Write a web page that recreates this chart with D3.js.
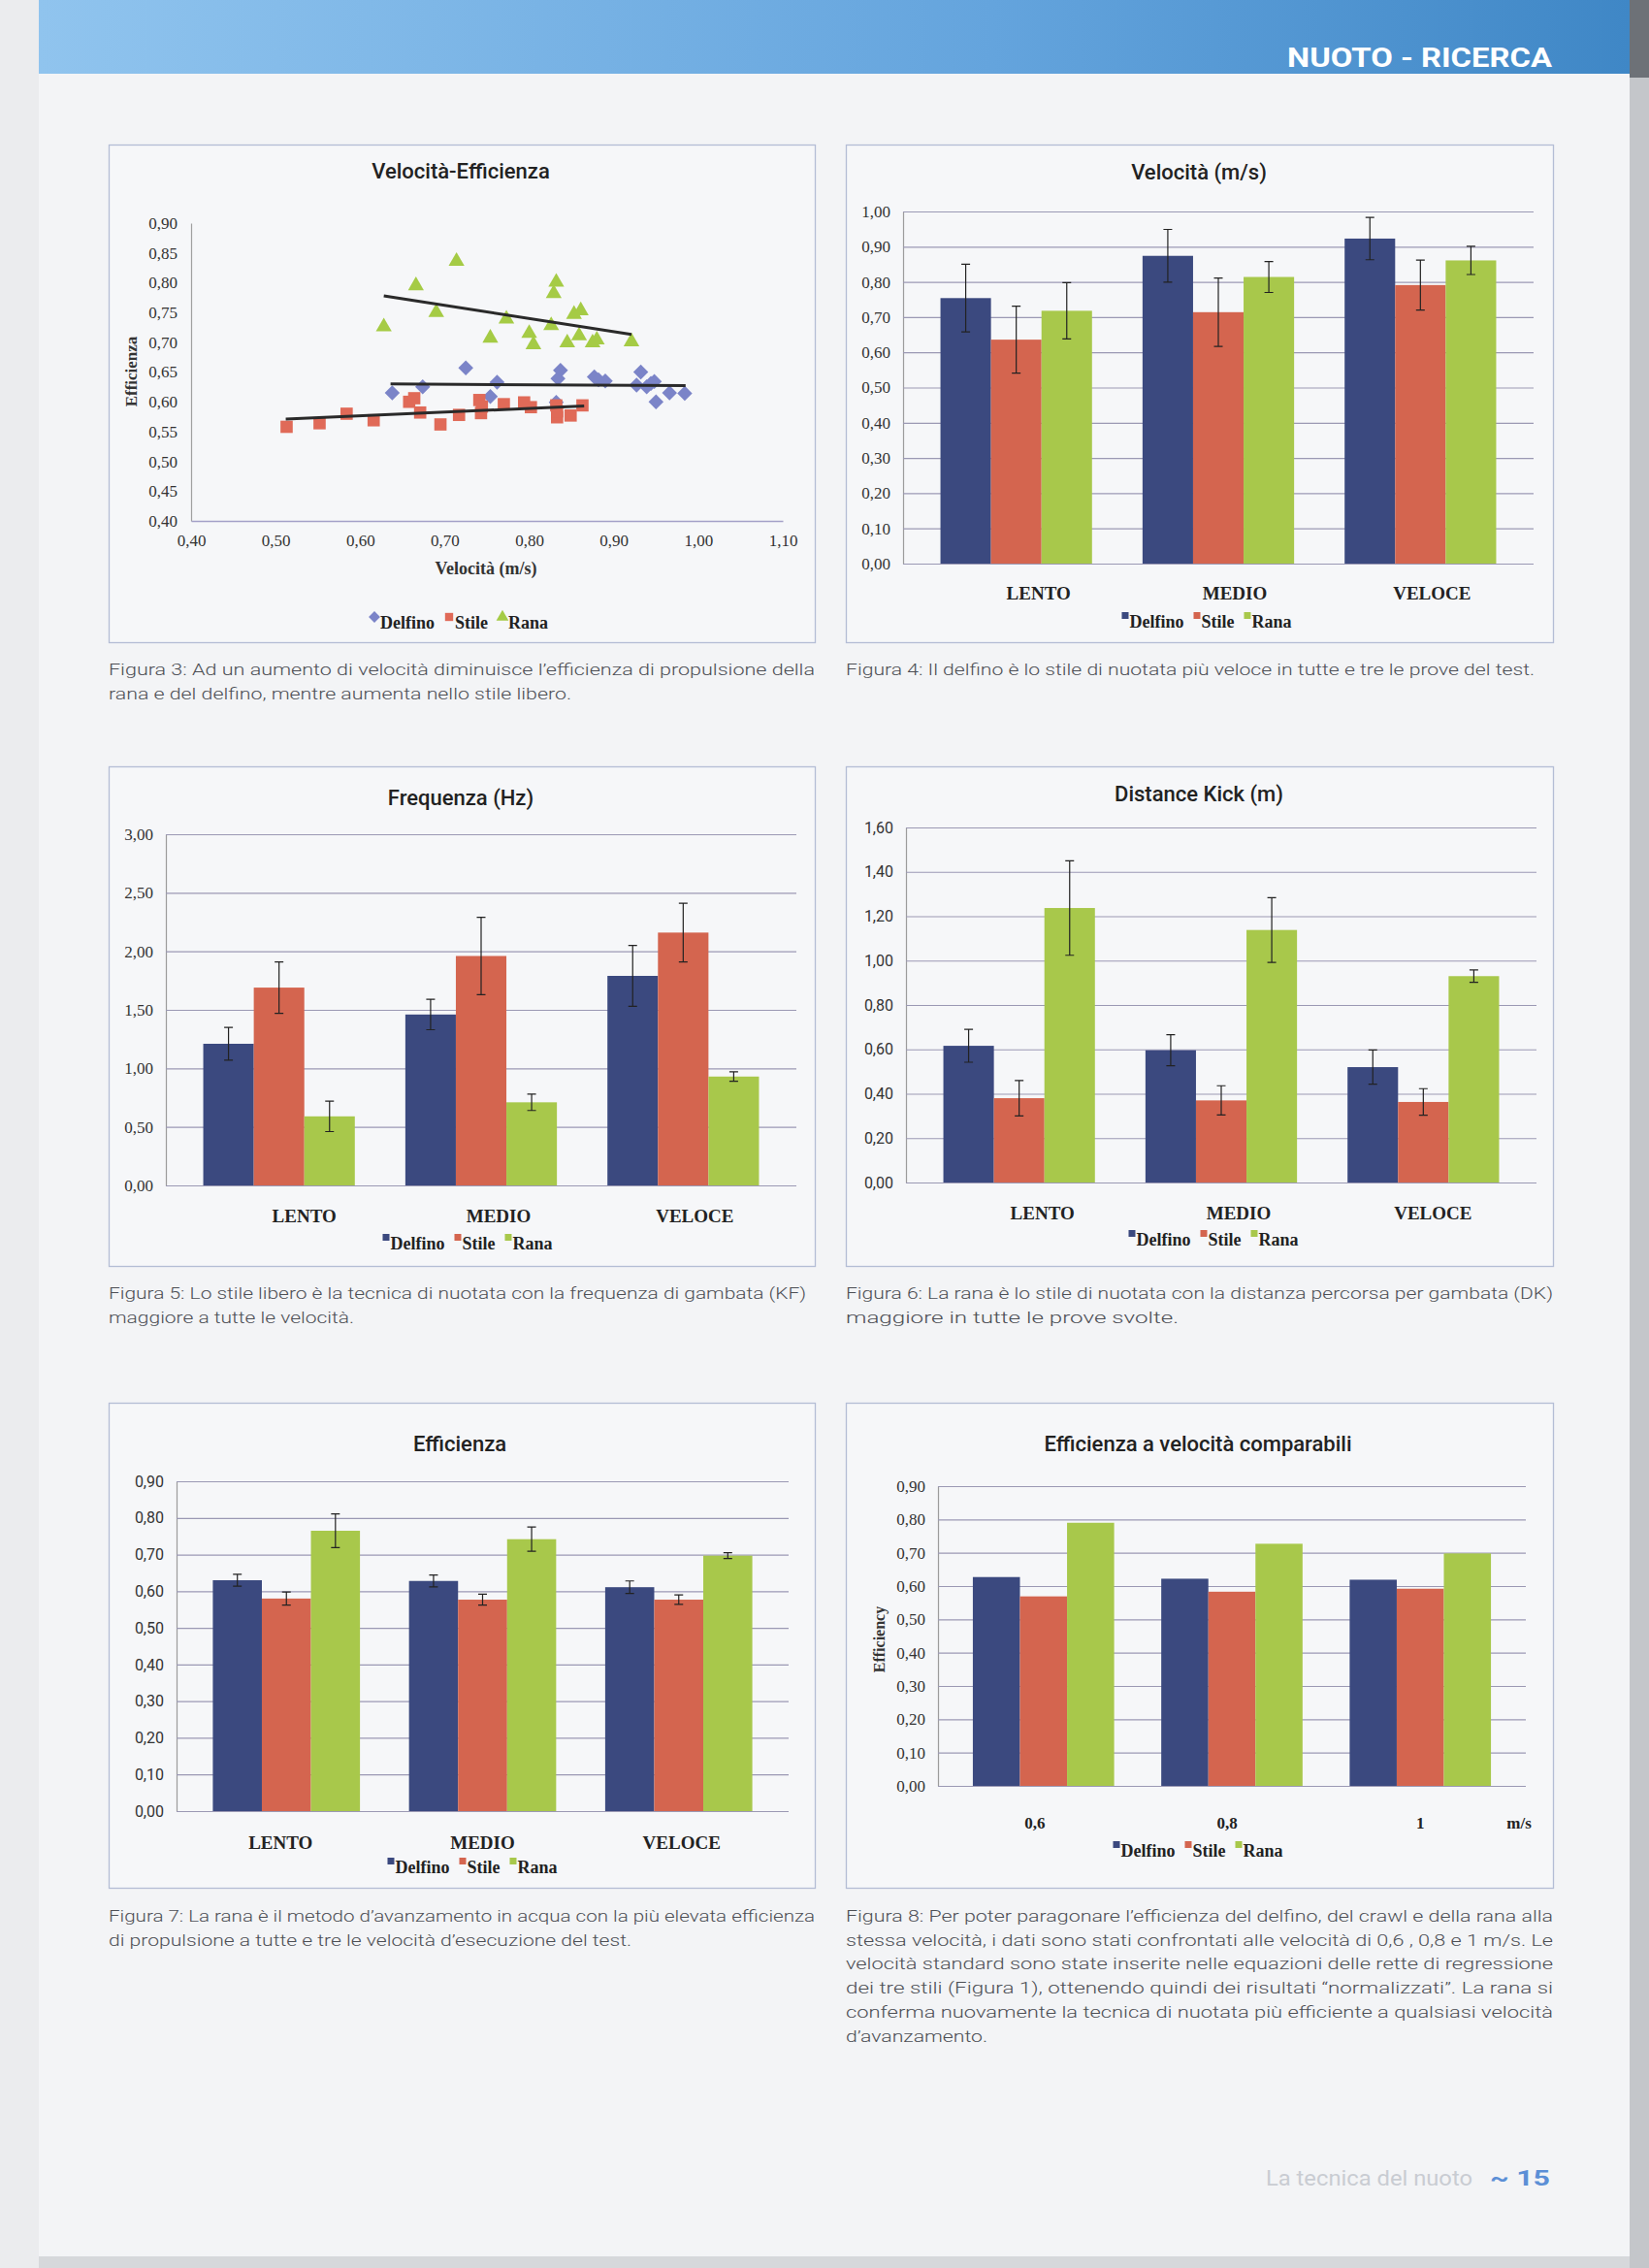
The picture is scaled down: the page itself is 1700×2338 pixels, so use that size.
<!DOCTYPE html>
<html>
<head>
<meta charset="utf-8">
<script src="https://cdn.jsdelivr.net/npm/d3@7"></script>
<style>
  html, body { margin: 0; padding: 0; background: #f3f4f6; }
  svg { display: block; }
</style>
</head>
<body>
<svg id="page" width="1700" height="2338"></svg>
<script>
const styles = ['Delfino', 'Stile', 'Rana'];
const speedLevels = ['LENTO', 'MEDIO', 'VELOCE'];
const compSpeeds = ['0,6', '0,8', '1'];

// Fig. 3 scatter, [velocità m/s, efficienza]
const delfinoPoints = [
  [0.638, 0.615], [0.674, 0.625], [0.725, 0.657], [0.754, 0.609], [0.762, 0.633],
  [0.832, 0.599], [0.834, 0.639], [0.837, 0.653], [0.877, 0.642], [0.882, 0.637],
  [0.890, 0.635], [0.927, 0.628], [0.932, 0.650], [0.939, 0.625], [0.944, 0.631],
  [0.948, 0.634], [0.950, 0.600], [0.966, 0.615], [0.984, 0.614],
];
const stilePoints = [
  [0.513, 0.558], [0.552, 0.564], [0.584, 0.580], [0.616, 0.569], [0.658, 0.600],
  [0.664, 0.606], [0.671, 0.582], [0.695, 0.562], [0.717, 0.578], [0.741, 0.603],
  [0.743, 0.581], [0.744, 0.592], [0.770, 0.596], [0.794, 0.599], [0.802, 0.591],
  [0.832, 0.594], [0.833, 0.574], [0.833, 0.584], [0.849, 0.577], [0.863, 0.594],
];
const ranaPoints = [
  [0.628, 0.726], [0.666, 0.795], [0.690, 0.750], [0.714, 0.836], [0.754, 0.707],
  [0.773, 0.739], [0.800, 0.715], [0.805, 0.696], [0.826, 0.728], [0.829, 0.782],
  [0.832, 0.801], [0.845, 0.699], [0.853, 0.747], [0.861, 0.753], [0.859, 0.711],
  [0.875, 0.699], [0.880, 0.704], [0.921, 0.701],
];
// regression lines as drawn in the figure
const delfinoTrend = [[0.636, 0.630], [0.985, 0.627]];
const stileTrend = [[0.512, 0.571], [0.865, 0.593]];
const ranaTrend = [[0.628, 0.778], [0.921, 0.713]];

// bar charts: one row per style (Delfino, Stile, Rana), one column per speed
const velocitaMean = [[0.754, 0.874, 0.923], [0.636, 0.714, 0.791], [0.718, 0.814, 0.861]];
const velocitaErr = [[0.096, 0.075, 0.060], [0.095, 0.097, 0.071], [0.080, 0.044, 0.040]];
const frequenzaMean = [[1.21, 1.46, 1.79], [1.69, 1.96, 2.16], [0.59, 0.71, 0.93]];
const frequenzaErr = [[0.14, 0.13, 0.26], [0.22, 0.33, 0.25], [0.13, 0.07, 0.04]];
const kickMean = [[0.616, 0.596, 0.520], [0.380, 0.370, 0.363], [1.237, 1.138, 0.930]];
const kickErr = [[0.074, 0.070, 0.077], [0.080, 0.066, 0.060], [0.213, 0.146, 0.028]];
const efficienzaMean = [[0.630, 0.628, 0.611], [0.580, 0.577, 0.577], [0.765, 0.742, 0.697]];
const efficienzaErr = [[0.016, 0.016, 0.017], [0.018, 0.015, 0.013], [0.046, 0.033, 0.008]];
const comparabiliMean = [[0.627, 0.622, 0.619], [0.569, 0.583, 0.592], [0.790, 0.727, 0.698]];

const captions = {
  fig3: ["Figura 3: Ad un aumento di velocità diminuisce l’efficienza di propulsione della",
         "rana e del delfino, mentre aumenta nello stile libero."],
  fig4: ["Figura 4: Il delfino è lo stile di nuotata più veloce in tutte e tre le prove del test."],
  fig5: ["Figura 5: Lo stile libero è la tecnica di nuotata con la frequenza di gambata (KF)",
         "maggiore a tutte le velocità."],
  fig6: ["Figura 6: La rana è lo stile di nuotata con la distanza percorsa per gambata (DK)",
         "maggiore in tutte le prove svolte."],
  fig7: ["Figura 7: La rana è il metodo d’avanzamento in acqua con la più elevata efficienza",
         "di propulsione a tutte e tre le velocità d’esecuzione del test."],
  fig8: ["Figura 8: Per poter paragonare l’efficienza del delfino, del crawl e della rana alla",
         "stessa velocità, i dati sono stati confrontati alle velocità di 0,6 , 0,8 e 1 m/s. Le",
         "velocità standard sono state inserite nelle equazioni delle rette di regressione",
         "dei tre stili (Figura 1), ottenendo quindi dei risultati “normalizzati”. La rana si",
         "conferma nuovamente la tecnica di nuotata più efficiente a qualsiasi velocità",
         "d’avanzamento."],
};

const barColors = ['#3b497f', '#d4654f', '#a8c84b'];
const dotColors = ['#7b84c8', '#e06a58', '#a5cb45'];
const SERIF = '"Liberation Serif", "Times New Roman", serif';
const SANS = 'Roboto, "Liberation Sans", sans-serif';
const fmt2 = (d) => d3.format('.2f')(d).replace('.', ',');

// a square turned 45°, like the spreadsheet marker
const squareDiamond = {
  draw(ctx, size) {
    const r = Math.sqrt(size / 2);
    ctx.moveTo(0, -r); ctx.lineTo(r, 0); ctx.lineTo(0, r); ctx.lineTo(-r, 0); ctx.closePath();
  },
};

const svg = d3.select('#page');

// ---------- page chrome ----------
const defs = svg.append('defs');
const grad = defs.append('linearGradient').attr('id', 'hdr').attr('x1', 0).attr('x2', 1);
grad.append('stop').attr('offset', 0).attr('stop-color', '#90c4ee');
grad.append('stop').attr('offset', 0.6).attr('stop-color', '#64a4dd');
grad.append('stop').attr('offset', 1).attr('stop-color', '#3f87c6');

svg.append('rect').attr('width', 1700).attr('height', 2338).attr('fill', '#f3f4f6');
svg.append('rect').attr('x', 0).attr('y', 0).attr('width', 40).attr('height', 2338).attr('fill', '#ebecee');
svg.append('rect').attr('x', 40).attr('y', 0).attr('width', 1640).attr('height', 76).attr('fill', 'url(#hdr)');
svg.append('text').attr('x', 1600).attr('y', 69).attr('text-anchor', 'end')
  .attr('font-family', SANS).attr('font-weight', 700).attr('font-size', 28)
  .attr('fill', '#ffffff').attr('textLength', 273).attr('lengthAdjust', 'spacingAndGlyphs')
  .text('NUOTO - RICERCA');
svg.append('rect').attr('x', 1680).attr('y', 0).attr('width', 20).attr('height', 2338).attr('fill', '#c4c6ca');
svg.append('rect').attr('x', 1680).attr('y', 0).attr('width', 20).attr('height', 80).attr('fill', '#6d7177');
svg.append('rect').attr('x', 40).attr('y', 2326).attr('width', 1640).attr('height', 12).attr('fill', '#d6d8db');

svg.append('text').attr('x', 1305).attr('y', 2253)
  .attr('font-family', SANS).attr('font-size', 22).attr('fill', '#c9ccd2')
  .attr('textLength', 213).attr('lengthAdjust', 'spacingAndGlyphs')
  .text('La tecnica del nuoto');
svg.append('text').attr('x', 1536).attr('y', 2253)
  .attr('font-family', SANS).attr('font-weight', 700).attr('font-size', 22).attr('fill', '#5b8fd6')
  .attr('textLength', 62).attr('lengthAdjust', 'spacingAndGlyphs')
  .text('~ 15');

// ---------- helpers ----------
function panel(b) {
  svg.append('rect').attr('x', b.x + 0.5).attr('y', b.y + 0.5).attr('width', b.w).attr('height', b.h)
    .attr('fill', '#f6f7f9').attr('stroke', '#b4bdd5').attr('stroke-width', 1.3);
}

function title(cx, cy, txt) {
  svg.append('text').attr('x', cx).attr('y', cy).attr('dy', '0.35em').attr('text-anchor', 'middle')
    .attr('font-family', SANS).attr('font-weight', 500).attr('font-size', 22).attr('fill', '#222')
    .text(txt);
}

function legend(cx, cy, kind) {
  const g = svg.append('g');
  let x = 0;
  styles.forEach((s, i) => {
    const item = g.append('g').attr('transform', `translate(${x},0)`);
    const pad = kind === 'scatter' ? 11 : 8;
    if (kind === 'scatter') {
      const sym = [squareDiamond, d3.symbolSquare, d3.symbolTriangle][i];
      item.append('path').attr('d', d3.symbol(sym, 70)()).attr('transform', 'translate(5,-6)')
        .attr('fill', dotColors[i]);
    } else {
      item.append('rect').attr('x', 0).attr('y', -10).attr('width', 7).attr('height', 7)
        .attr('fill', barColors[i]);
    }
    const t = item.append('text').attr('x', pad).attr('y', 0).attr('dy', '0.35em')
      .attr('font-family', SERIF).attr('font-weight', 700).attr('font-size', 18).attr('fill', '#222')
      .text(s);
    x += pad + t.node().getComputedTextLength() + 10;
  });
  const w = x - 10;
  g.attr('transform', `translate(${cx - w / 2},${cy})`);
}

function caption(x, y, lines, widths) {
  lines.forEach((ln, i) => {
    svg.append('text').attr('x', x).attr('y', y + i * 24.7)
      .attr('font-family', SANS).attr('font-weight', 300).attr('font-size', 17).attr('fill', '#4d4f55')
      .attr('textLength', widths[i]).attr('lengthAdjust', 'spacingAndGlyphs')
      .text(ln);
  });
}

function barChart(o) {
  panel(o.box);
  title(o.titleX, o.titleY, o.title);
  const p = o.plot;
  const y = d3.scaleLinear().domain([0, o.yMax]).range([p.bottom, p.top]);
  const x0 = d3.scaleBand().domain(o.cats).range([p.left, p.right])
    .paddingInner(0.25).paddingOuter(0.185);
  const x1 = d3.scaleBand().domain(styles).range([0, x0.bandwidth()]);

  const ticks = d3.range(0, o.yMax + 1e-9, o.yStep);
  const ga = svg.append('g').attr('transform', `translate(${p.left},0)`)
    .call(d3.axisLeft(y).tickValues(ticks).tickSize(-(p.right - p.left)).tickSizeOuter(0)
      .tickPadding(13).tickFormat(fmt2));
  ga.select('.domain').attr('stroke', '#9c9c9c').attr('stroke-width', 1.2);
  ga.selectAll('.tick line').attr('stroke', '#9b99b4').attr('stroke-width', 1.2);
  ga.selectAll('.tick text').attr('font-family', o.tickFont).attr('font-size', o.tickSize)
    .attr('fill', '#333');

  const rows = styles.flatMap((s, si) => o.cats.map((c, ci) => ({
    s, c, si, v: o.mean[si][ci], e: o.err ? o.err[si][ci] : null,
  })));

  svg.append('g').selectAll('rect').data(rows).join('rect')
    .attr('x', (d) => x0(d.c) + x1(d.s))
    .attr('y', (d) => y(d.v))
    .attr('width', x1.bandwidth())
    .attr('height', (d) => y(0) - y(d.v))
    .attr('fill', (d) => barColors[d.si]);

  if (o.err) {
    const eg = svg.append('g').attr('stroke', '#222').attr('stroke-width', 1.2).attr('fill', 'none');
    rows.forEach((d) => {
      const cx = x0(d.c) + x1(d.s) + x1.bandwidth() / 2;
      const y1 = y(d.v + d.e), y2 = y(d.v - d.e);
      eg.append('path').attr('d', `M${cx},${y1}V${y2}M${cx - 4.5},${y1}H${cx + 4.5}M${cx - 4.5},${y2}H${cx + 4.5}`);
    });
  }

  // category labels sit slightly off the group centres in the original
  const gx = svg.append('g').attr('transform', `translate(0,${o.catY})`)
    .call(d3.axisBottom(x0).tickSize(0).tickPadding(0));
  gx.select('.domain').remove();
  gx.selectAll('.tick text').attr('dy', '0.35em').attr('dx', (d, i) => o.catShift[i])
    .attr('font-family', SERIF).attr('font-weight', 700)
    .attr('font-size', o.catSize || 19).attr('fill', '#222');
  if (o.after) o.after(x0, y);

  legend(o.legendX, o.legendY, 'bar');
}

// ---------- Fig. 3: scatter ----------
(function scatter() {
  panel({ x: 112, y: 149, w: 728, h: 513 });
  title(475, 176, 'Velocità-Efficienza');
  const x = d3.scaleLinear().domain([0.4, 1.1]).range([197, 807]);
  const y = d3.scaleLinear().domain([0.4, 0.9]).range([537, 230]);

  const gy = svg.append('g').attr('transform', 'translate(197,0)')
    .call(d3.axisLeft(y).tickValues(d3.range(0.4, 0.9001, 0.05)).tickSize(0).tickPadding(14).tickFormat(fmt2));
  gy.select('.domain').attr('stroke', '#a0a0a0').attr('stroke-width', 1.2);
  gy.selectAll('text').attr('font-family', SERIF).attr('font-size', 17).attr('fill', '#333');

  const gx = svg.append('g').attr('transform', 'translate(0,537)')
    .call(d3.axisBottom(x).tickValues(d3.range(0.4, 1.1001, 0.1)).tickSize(0).tickPadding(14).tickFormat(fmt2));
  gx.select('.domain').attr('stroke', '#a4a1c8').attr('stroke-width', 1.4);
  gx.selectAll('text').attr('font-family', SERIF).attr('font-size', 17).attr('fill', '#333');

  svg.append('text').attr('x', 501).attr('y', 586).attr('dy', '0.35em').attr('text-anchor', 'middle')
    .attr('font-family', SERIF).attr('font-weight', 700).attr('font-size', 18).attr('fill', '#333')
    .text('Velocità (m/s)');
  svg.append('text').attr('transform', 'translate(135,383) rotate(-90)').attr('dy', '0.35em')
    .attr('text-anchor', 'middle').attr('font-family', SERIF).attr('font-weight', 700)
    .attr('font-size', 17).attr('fill', '#333').text('Efficienza');

  const sets = [
    [delfinoPoints, squareDiamond, 120],
    [stilePoints, d3.symbolSquare, 160],
    [ranaPoints, d3.symbolTriangle, 115],
  ];
  sets.forEach(([pts, sym, size], i) => {
    svg.append('g').selectAll('path').data(pts).join('path')
      .attr('d', d3.symbol(sym, size)())
      .attr('transform', (d) => `translate(${x(d[0])},${y(d[1])})`)
      .attr('fill', dotColors[i]);
  });

  const line = d3.line().x((d) => x(d[0])).y((d) => y(d[1]));
  [delfinoTrend, stileTrend, ranaTrend].forEach((t) => {
    svg.append('path').attr('d', line(t)).attr('stroke', '#2a2a2a').attr('stroke-width', 3)
      .attr('fill', 'none');
  });

  legend(473, 642, 'scatter');
})();

// ---------- Fig. 4 ----------
barChart({
  box: { x: 872, y: 149, w: 729, h: 513 }, title: 'Velocità (m/s)', titleX: 1236, titleY: 177,
  plot: { left: 931, right: 1581, top: 218, bottom: 581 }, yMax: 1.0, yStep: 0.1,
  tickFont: SERIF, tickSize: 17, cats: speedLevels, mean: velocitaMean, err: velocitaErr,
  catY: 611, catShift: [23, 17, 12], legendX: 1244, legendY: 641,
});

// ---------- Fig. 5 ----------
barChart({
  box: { x: 112, y: 790, w: 728, h: 515 }, title: 'Frequenza (Hz)', titleX: 475, titleY: 822,
  plot: { left: 171, right: 821, top: 860, bottom: 1222 }, yMax: 3.0, yStep: 0.5,
  tickFont: SERIF, tickSize: 17, cats: speedLevels, mean: frequenzaMean, err: frequenzaErr,
  catY: 1253, catShift: [26, 18, 12], legendX: 482, legendY: 1282,
});

// ---------- Fig. 6 ----------
barChart({
  box: { x: 872, y: 790, w: 729, h: 515 }, title: 'Distance Kick (m)', titleX: 1236, titleY: 818,
  plot: { left: 934, right: 1584, top: 853, bottom: 1219 }, yMax: 1.6, yStep: 0.2,
  tickFont: SANS, tickSize: 16, cats: speedLevels, mean: kickMean, err: kickErr,
  catY: 1250, catShift: [24, 18, 10], legendX: 1251, legendY: 1278,
});

// ---------- Fig. 7 ----------
barChart({
  box: { x: 112, y: 1446, w: 728, h: 500 }, title: 'Efficienza', titleX: 474, titleY: 1488,
  plot: { left: 182, right: 813, top: 1527, bottom: 1867 }, yMax: 0.9, yStep: 0.1,
  tickFont: SANS, tickSize: 16, cats: speedLevels, mean: efficienzaMean, err: efficienzaErr,
  catY: 1899, catShift: [-6, 0, 3], legendX: 487, legendY: 1925,
});

// ---------- Fig. 8 ----------
barChart({
  box: { x: 872, y: 1446, w: 729, h: 500 }, title: 'Efficienza a velocità comparabili',
  titleX: 1235, titleY: 1488,
  plot: { left: 967, right: 1573, top: 1532, bottom: 1841 }, yMax: 0.9, yStep: 0.1,
  tickFont: SERIF, tickSize: 17, cats: compSpeeds, mean: comparabiliMean, err: null,
  catY: 1879, catShift: [-9, -5, 0], catSize: 17, legendX: 1235, legendY: 1908,
  after: () => {
    svg.append('text').attr('x', 1566).attr('y', 1879).attr('dy', '0.35em').attr('text-anchor', 'middle')
      .attr('font-family', SERIF).attr('font-weight', 700).attr('font-size', 17).attr('fill', '#222')
      .text('m/s');
    svg.append('text').attr('transform', 'translate(906,1690) rotate(-90)').attr('dy', '0.35em')
      .attr('text-anchor', 'middle').attr('font-family', SERIF).attr('font-weight', 700)
      .attr('font-size', 16).attr('fill', '#333').text('Efficiency');
  },
});

// ---------- captions ----------
caption(112, 696, captions.fig3, [728, 477]);
caption(872, 696, captions.fig4, [710]);
caption(112, 1339, captions.fig5, [719, 253]);
caption(872, 1339, captions.fig6, [729, 343]);
caption(112, 1981, captions.fig7, [728, 539]);
caption(872, 1981, captions.fig8, [729, 729, 729, 729, 729, 146]);
</script>
</body>
</html>
